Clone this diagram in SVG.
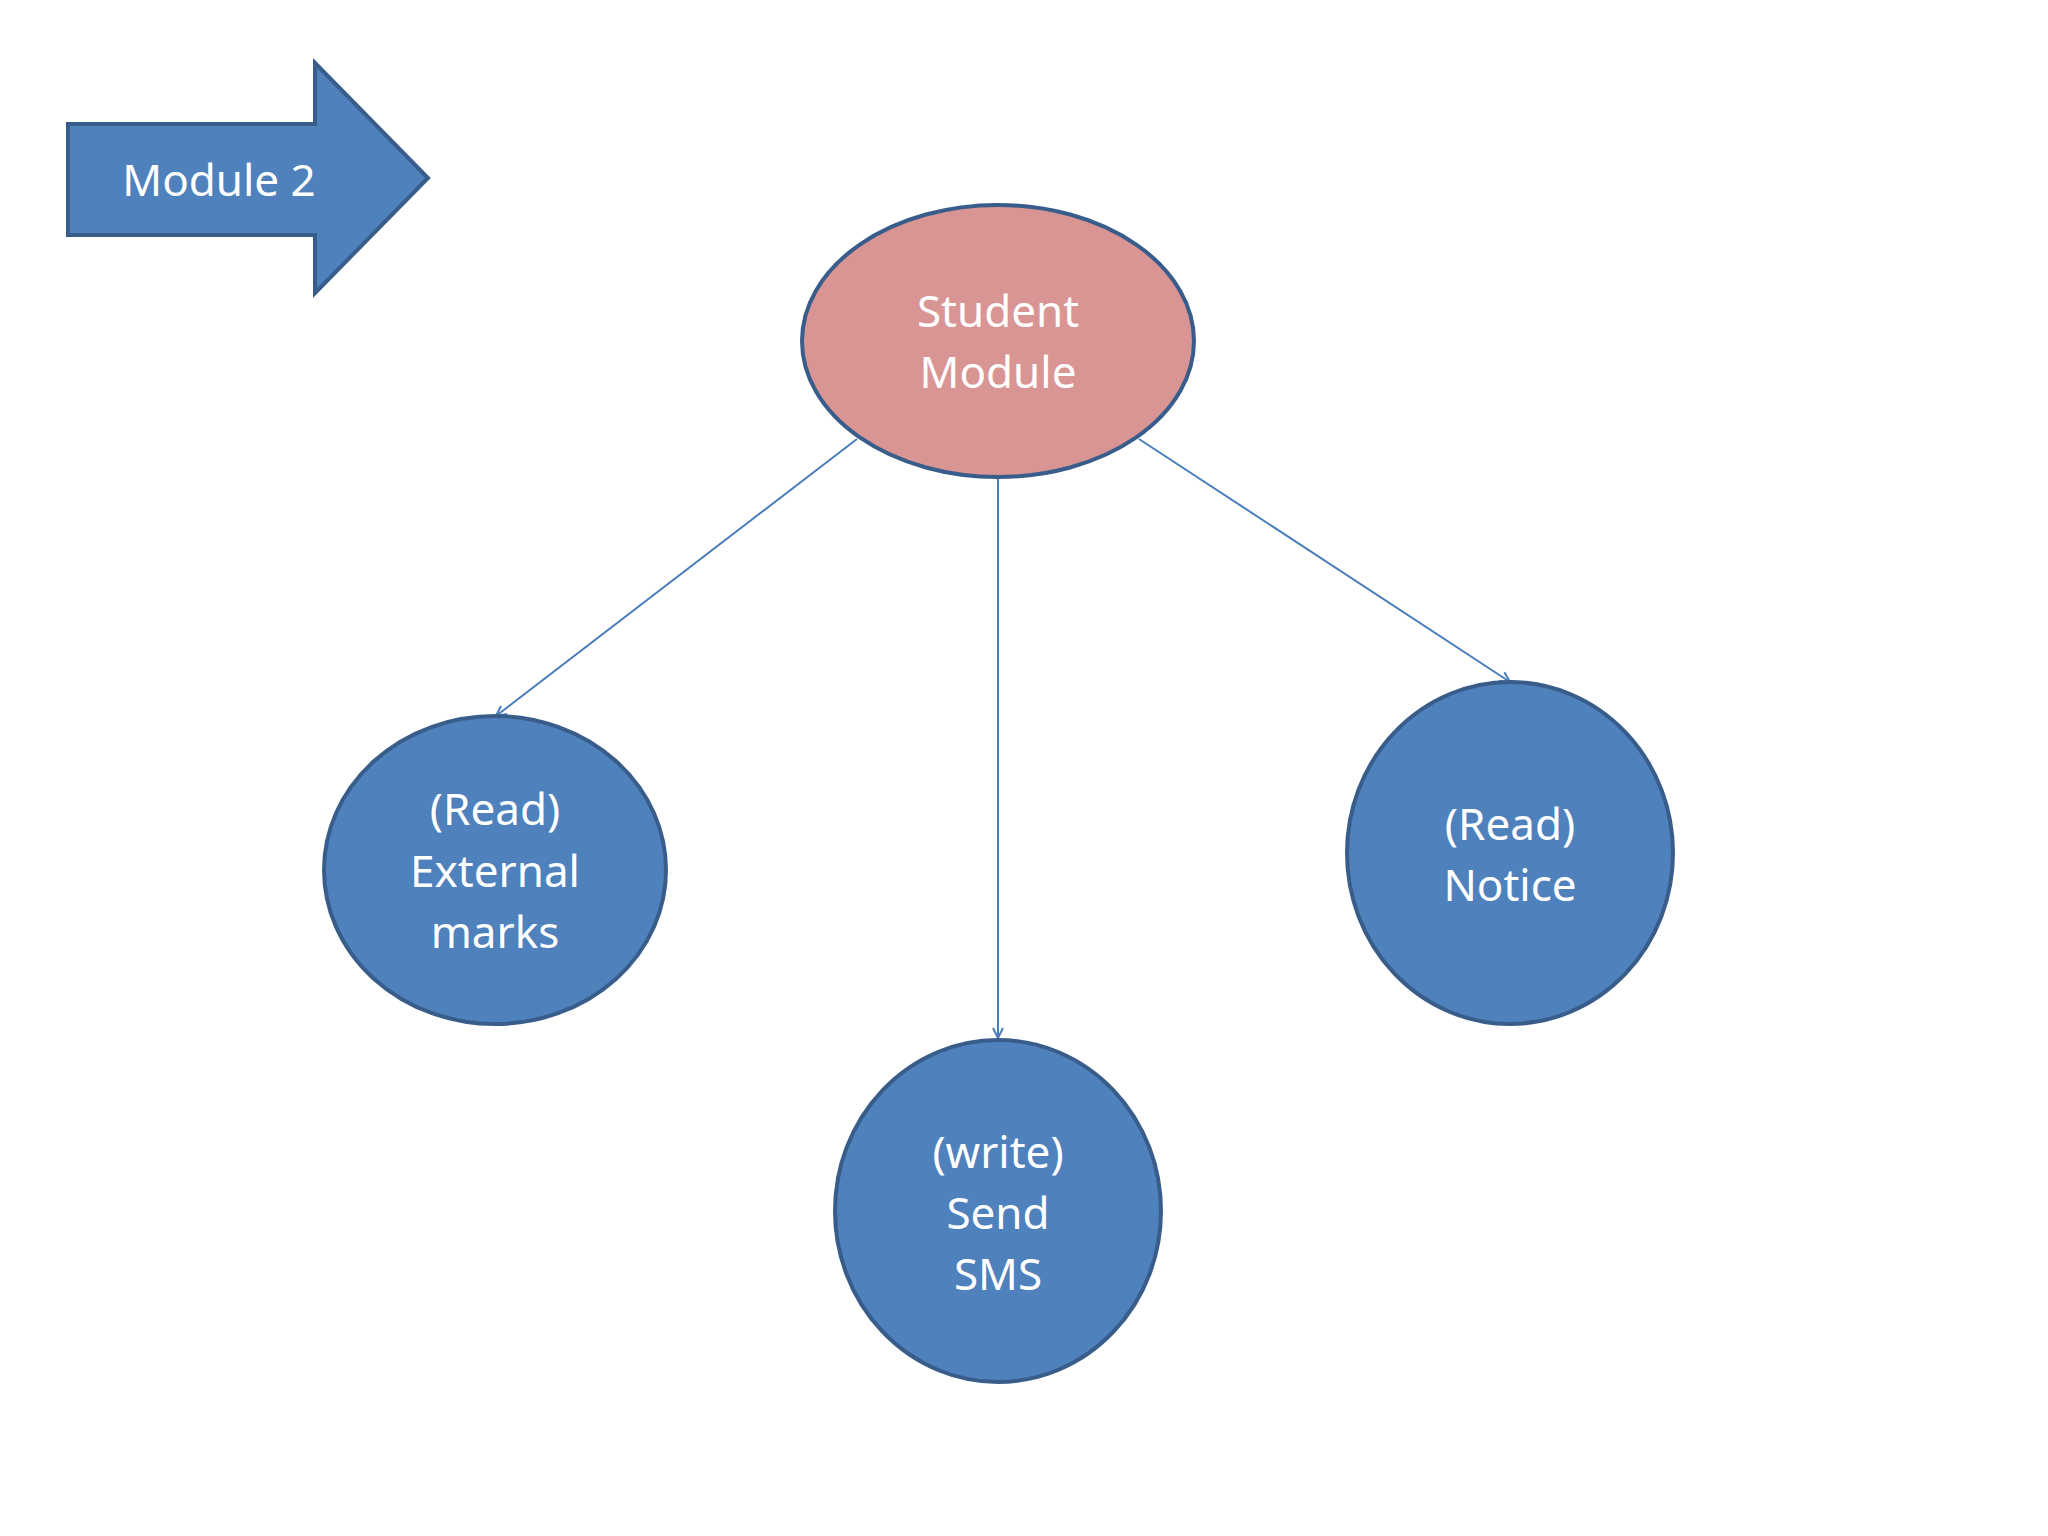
<svg xmlns="http://www.w3.org/2000/svg" width="2048" height="1536" viewBox="0 0 2048 1536">
<defs>
<style>
.n{fill:#4F81BD;stroke:#385D8A;stroke-width:4}
.p{fill:#D99594;stroke:#385D8A;stroke-width:4}
.t{font-family:"Noto Sans","Open Sans",sans-serif;font-size:44px;fill:#fff;text-anchor:middle}
.c{stroke:#4A7EBB;stroke-width:2;fill:none;marker-end:url(#a)}
</style>
<marker id="a" viewBox="0 0 12 12" refX="11" refY="6" markerWidth="12" markerHeight="12" markerUnits="userSpaceOnUse" orient="auto"><path d="M1,1 L11,6 L1,11" fill="none" stroke="#4A7EBB" stroke-width="2"/></marker>
</defs>
<rect width="2048" height="1536" fill="#fff"/>
<g id="module2"><polygon class="n" points="68,124 315,124 315,63 428,178 315,293 315,235 68,235"/><text class="t" x="219" y="196">Module 2</text></g>
<g id="connectors">
<line class="c" x1="857" y1="439" x2="496" y2="716"/>
<line class="c" x1="998" y1="478" x2="998" y2="1038"/>
<line class="c" x1="1139" y1="439" x2="1510" y2="682"/>
</g>
<g id="student"><ellipse class="p" cx="998" cy="341" rx="196" ry="136"/><text class="t" x="998" y="327">Student</text><text class="t" x="998" y="388">Module</text></g>
<g id="external"><ellipse class="n" cx="495" cy="870" rx="171" ry="154"/><text class="t" x="495" y="825">(Read)</text><text class="t" x="495" y="887">External</text><text class="t" x="495" y="948">marks</text></g>
<g id="sms"><ellipse class="n" cx="998" cy="1211" rx="163" ry="171"/><text class="t" x="998" y="1168">(write)</text><text class="t" x="998" y="1229">Send</text><text class="t" x="998" y="1290">SMS</text></g>
<g id="notice"><ellipse class="n" cx="1510" cy="853" rx="163" ry="171"/><text class="t" x="1510" y="840">(Read)</text><text class="t" x="1510" y="901">Notice</text></g>
</svg>
